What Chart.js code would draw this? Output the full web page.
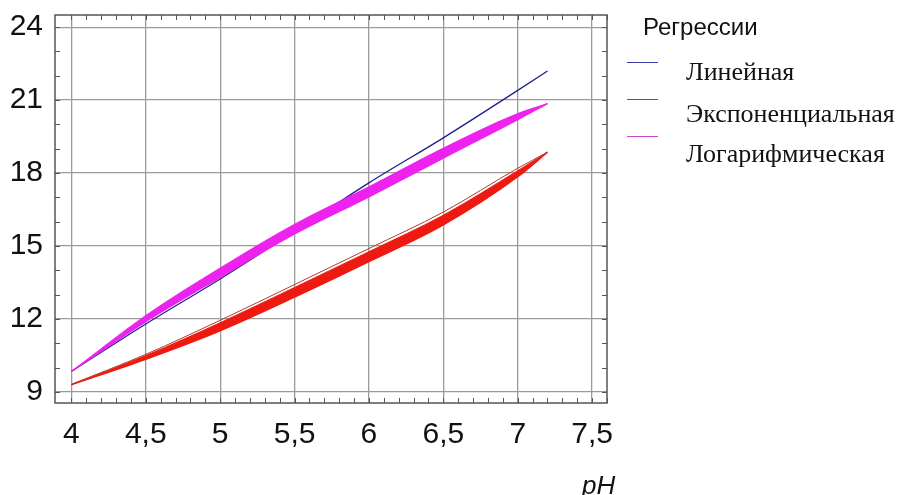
<!DOCTYPE html>
<html>
<head>
<meta charset="utf-8">
<script src="https://cdn.jsdelivr.net/npm/chart.js@4.4.1/dist/chart.umd.min.js"></script>
<style>
    body { margin: 0; background: #fff; }
    #wrap { position: relative; width: 905px; height: 495px; }
    #chart { position: absolute; left: 0; top: 0; }
    .legend-title { position: absolute; left: 643px; top: 15px; font: 24px 'Liberation Sans', Arial, sans-serif; line-height: 1; color: #111; }
    .legend-item { position: absolute; left: 686px; font: 26px 'Liberation Serif', 'Times New Roman', serif; line-height: 1; color: #111; }
    .legend-line { position: absolute; left: 627px; width: 31px; height: 1px; }
    .axis-title { position: absolute; left: 582px; top: 472px; font: italic 26px 'Liberation Sans', Arial, sans-serif; line-height: 1; color: #111; }
</style>
</head>
<body>
<div id="wrap">
    <canvas id="chart" width="905" height="495"></canvas>
    <div id="legend"></div>
    <div class="axis-title">pH</div>
</div>
<script>
const phValues = [4, 4.5, 5, 5.5, 6, 6.5, 7, 7.2];

const linearValues = [9.85, 11.8, 13.65, 15.6, 17.6, 19.45, 21.4, 22.2];
const logUpper = [9.85, 12.15, 14.1, 15.9, 17.44, 19.03, 20.45, 20.86];
const logLower = [9.85, 11.9, 13.72, 15.5, 17.03, 18.62, 20.2, 20.86];
const expUpper = [9.3, 10.5, 11.85, 13.3, 14.77, 16.27, 18.1, 18.86];
const expLower = [9.3, 10.35, 11.52, 12.9, 14.36, 15.87, 17.85, 18.86];
const expEdge = [9.32, 10.55, 11.95, 13.42, 14.9, 16.4, 18.2, 18.86];

const xTickValues = [4, 4.5, 5, 5.5, 6, 6.5, 7, 7.5];
const yTickValues = [9, 12, 15, 18, 21, 24];

const legendTitle = 'Регрессии';
const legendLabels = ['Линейная', 'Экспоненциальная', 'Логарифмическая'];

const COLORS = {
    linear: '#1f1f8f',
    exp: '#ee1a12',
    expEdge: '#a8402c',
    log: '#ee22ee'
};

const TICK_FONT = { family: "'Liberation Sans', Arial, sans-serif", size: 30 };

const toPoints = ys => phValues.map((x, i) => ({ x: x, y: ys[i] }));

// legend (html)
const legend = document.getElementById('legend');
const legendHtml = ['<div class="legend-title">' + legendTitle + '</div>'];
const legendColors = ['#3a3aa8', '#c8302a', '#c848c8'];
const lineTops = [62, 99, 136];
const textTops = [59, 101, 141];
legendLabels.forEach((label, i) => {
    legendHtml.push('<div class="legend-line" style="top:' + lineTops[i] + 'px;background:' + legendColors[i] + '"></div>');
    legendHtml.push('<div class="legend-item" style="top:' + textTops[i] + 'px">' + label + '</div>');
});
legend.innerHTML = legendHtml.join('');

// frame + inward minor ticks on all four sides
const framePlugin = {
    id: 'frame',
    afterDraw(chart) {
        const { ctx, chartArea: a, scales } = chart;
        const xs = scales.x, ys = scales.y;
        ctx.save();
        ctx.strokeStyle = '#555';
        ctx.lineWidth = 1;
        ctx.beginPath();
        for (let v = 4; v <= 7.6001; v += 0.1) {
            const px = Math.round(xs.getPixelForValue(v)) + 0.5;
            ctx.moveTo(px, a.bottom); ctx.lineTo(px, a.bottom - 5);
            ctx.moveTo(px, a.top); ctx.lineTo(px, a.top + 5);
        }
        for (let v = 9; v <= 24; v += 1) {
            const py = Math.round(ys.getPixelForValue(v)) + 0.5;
            ctx.moveTo(a.left, py); ctx.lineTo(a.left + 5, py);
            ctx.moveTo(a.right, py); ctx.lineTo(a.right - 5, py);
        }
        ctx.stroke();
        ctx.lineWidth = 1.5;
        ctx.strokeRect(a.left, a.top, a.right - a.left, a.bottom - a.top);
        ctx.restore();
    }
};

const curve = {
    showLine: true,
    pointRadius: 0,
    cubicInterpolationMode: 'monotone'
};

new Chart(document.getElementById('chart'), {
    type: 'scatter',
    data: {
        datasets: [
            { ...curve, label: 'expUpper', data: toPoints(expUpper), borderColor: COLORS.exp, borderWidth: 1, fill: false, order: 5 },
            { ...curve, label: 'expLower', data: toPoints(expLower), borderColor: COLORS.exp, backgroundColor: COLORS.exp, borderWidth: 1.5, fill: '-1', order: 4 },
            { ...curve, label: 'expEdge', data: toPoints(expEdge), borderColor: COLORS.expEdge, borderWidth: 1, fill: false, order: 3 },
            { ...curve, label: 'linear', data: toPoints(linearValues), borderColor: COLORS.linear, borderWidth: 1.3, fill: false, order: 2 },
            { ...curve, label: 'logUpper', data: toPoints(logUpper), borderColor: COLORS.log, borderWidth: 1, fill: false, order: 1 },
            { ...curve, label: 'logLower', data: toPoints(logLower), borderColor: COLORS.log, backgroundColor: COLORS.log, borderWidth: 1.5, fill: '-1', order: 0 }
        ]
    },
    options: {
        responsive: false,
        animation: false,
        layout: { padding: { left: 0, top: 15, right: 298, bottom: 0 } },
        plugins: { legend: { display: false }, tooltip: { enabled: false } },
        scales: {
            x: {
                type: 'linear',
                min: 3.89,
                max: 7.6,
                afterBuildTicks: s => { s.ticks = xTickValues.map(v => ({ value: v })); },
                afterFit: s => { s.height = 92; s.paddingLeft = 0; s.paddingRight = 0; },
                grid: { color: '#9a9a9a', lineWidth: 1.3, drawTicks: false },
                border: { display: false },
                ticks: {
                    padding: 14,
                    color: '#111',
                    font: TICK_FONT,
                    callback: v => String(v).replace('.', ',')
                }
            },
            y: {
                type: 'linear',
                min: 8.55,
                max: 24.5,
                afterBuildTicks: s => { s.ticks = yTickValues.map(v => ({ value: v })); },
                afterFit: s => { s.width = 55; s.paddingTop = 0; s.paddingBottom = 0; },
                grid: { color: '#9a9a9a', lineWidth: 1.3, drawTicks: false },
                border: { display: false },
                ticks: {
                    padding: 12,
                    color: '#111',
                    font: TICK_FONT
                }
            }
        }
    },
    plugins: [framePlugin]
});
</script>
</body>
</html>
